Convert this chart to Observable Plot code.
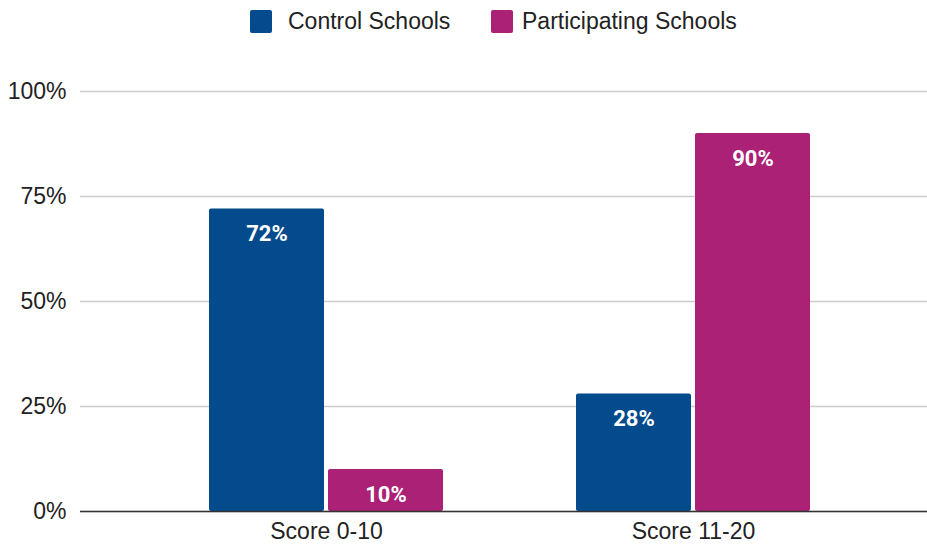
<!DOCTYPE html>
<html>
<head>
<meta charset="utf-8">
<script src="https://cdn.jsdelivr.net/npm/d3@7"></script>
<script src="https://cdn.jsdelivr.net/npm/@observablehq/plot@0.6"></script>
<style>
  body { margin: 0; background: #fff; font-family: "Liberation Sans", Arial, sans-serif; }
  #legend { position: relative; width: 927px; height: 44px; }
  .sw { position: absolute; top: 10px; width: 22px; height: 23px; border-radius: 2px; }
  .lt { position: absolute; top: 8px; font-size: 23px; line-height: 26px; color: #222; white-space: nowrap; }
  svg { display: block; }
</style>
</head>
<body>
<div id="legend">
  <div class="sw" style="left:250px;background:#034b8c"></div>
  <div class="lt" style="left:288px">Control Schools</div>
  <div class="sw" style="left:491px;background:#ab2176"></div>
  <div class="lt" style="left:522px">Participating Schools</div>
</div>
<div id="chart"></div>
<script>
const groups = ["Score 0-10", "Score 11-20"];
const controlValues = [72, 28];
const participatingValues = [10, 90];
const yTicks = [0, 25, 50, 75, 100];
const seriesNames = ["Control Schools", "Participating Schools"];
const seriesColors = ["#034b8c", "#ab2176"];

const controlRows = groups.map((g, i) => ({group: g, value: controlValues[i]}));
const partRows = groups.map((g, i) => ({group: g, value: participatingValues[i]}));

const chart = Plot.plot({
  width: 927,
  height: 503,
  marginLeft: 80,
  marginRight: 0,
  marginTop: 47,
  marginBottom: 36,
  style: {fontFamily: "'Liberation Sans', Arial, sans-serif", fontSize: "23px", color: "#222", background: "#fff"},
  x: {domain: groups, paddingInner: 0.3624, paddingOuter: 0.335, align: 0.525, label: null, tickSize: 0, tickPadding: 11},
  y: {domain: [0, 100], ticks: yTicks, tickFormat: d => d + "%", label: null, tickSize: 0, tickPadding: 14},
  marks: [
    Plot.ruleY(yTicks, {stroke: "#cccccc", strokeWidth: 1.5}),
    Plot.barY(controlRows, {x: "group", y: "value", fill: seriesColors[0], insetRight: 119, rx: 2}),
    Plot.barY(partRows, {x: "group", y: "value", fill: seriesColors[1], insetLeft: 119, rx: 2}),
    Plot.ruleY([0], {stroke: "#333", strokeWidth: 1.5}),
    Plot.text(controlRows, {x: "group", y: "value", dx: -59.5, dy: 25, text: d => d.value + "%", fill: "white", fontWeight: "bold", fontSize: 22, fontFamily: "Roboto"}),
    Plot.text(partRows, {x: "group", y: "value", dx: 59.5, dy: 25, text: d => d.value + "%", fill: "white", fontWeight: "bold", fontSize: 22, fontFamily: "Roboto"})
  ]
});
document.getElementById("chart").appendChild(chart);
</script>
</body>
</html>
